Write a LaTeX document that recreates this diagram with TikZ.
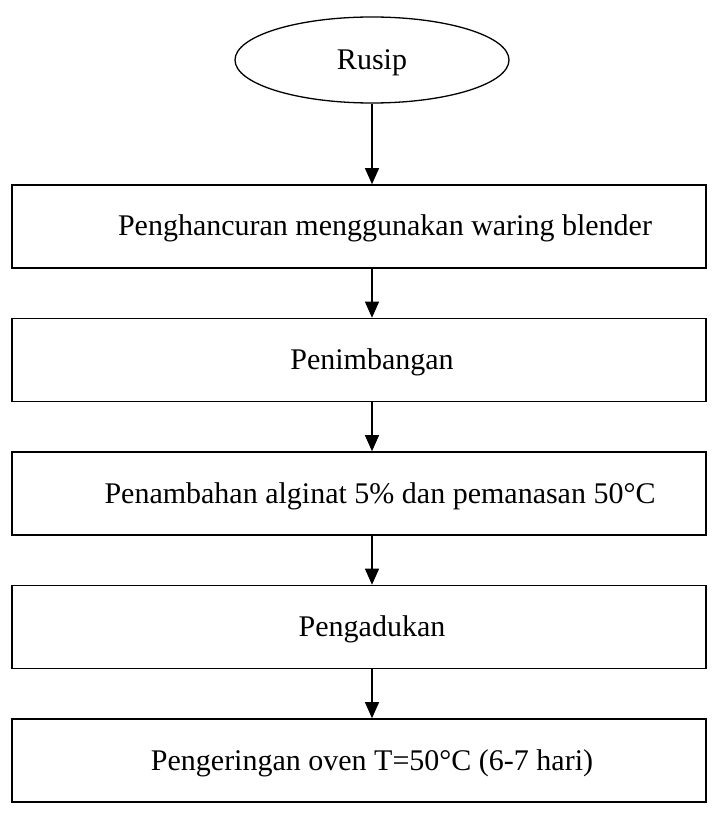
\documentclass[tikz,border=0pt]{standalone}
\usepackage{fontspec}
\setmainfont{Liberation Serif}
\usetikzlibrary{shapes.geometric,arrows.meta}
\begin{document}
\begin{tikzpicture}[x=1pt,y=-1pt,
  every node/.style={font=\fontsize{30}{36}\selectfont, inner sep=0pt},
  stage/.style={draw, line width=1.6pt, minimum width=694pt, minimum height=83pt},
  flow/.style={draw, line width=1.3pt, -{Triangle[length=16pt,width=14pt]}},
  lbl/.style={anchor=base}]
\useasboundingbox (0,0) rectangle (718,834);
% start terminal
\node[ellipse, draw, line width=1.3pt, minimum width=274pt, minimum height=86pt] (start) at (372,60) {};
\node[lbl] at (372,70) {Rusip};
% process stages
\node[stage] (s1) at (359,226.5) {};
\node[stage] (s2) at (359,360) {};
\node[stage] (s3) at (359,493.5) {};
\node[stage] (s4) at (359,627) {};
\node[stage] (s5) at (359,760.5) {};
\node[lbl] at (385,236) {Penghancuran menggunakan waring blender};
\node[lbl] at (372,369) {Penimbangan};
\node[lbl] at (380,503) {Penambahan alginat 5\% dan pemanasan 50°C};
\node[lbl] at (372,636) {Pengadukan};
\node[lbl] at (372,770) {Pengeringan oven T=50°C (6-7 hari)};
% connectors
\draw[flow] (start.south) -- (start.south |- s1.north);
\draw[flow] (s1.south -| start.south) -- (s2.north -| start.south);
\draw[flow] (s2.south -| start.south) -- (s3.north -| start.south);
\draw[flow] (s3.south -| start.south) -- (s4.north -| start.south);
\draw[flow] (s4.south -| start.south) -- (s5.north -| start.south);
\end{tikzpicture}
\end{document}
